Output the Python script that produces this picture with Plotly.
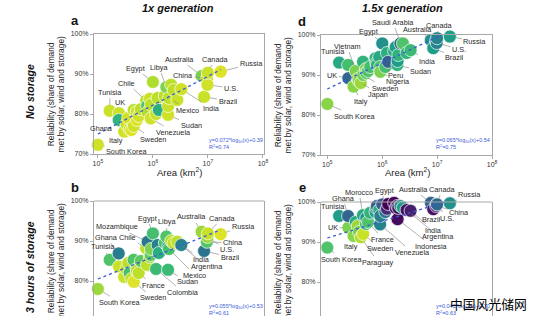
import numpy as np
import plotly.graph_objects as go

# ---------------- data ----------------
countries = ["South Korea", "Tunisia", "UK", "Ghana", "Italy", "Vietnam", "Germany", "Japan", "Paraguay", "Morocco",
             "Sweden", "Spain", "Thailand", "France", "Ukraine", "Chile", "Turkey", "Mozambique", "Pakistan", "Venezuela",
             "Nigeria", "Egypt", "Colombia", "South Africa", "Peru", "Iran", "Libya", "Sudan", "Indonesia", "Mexico",
             "Saudi Arabia", "Algeria", "Argentina", "India", "Australia", "Brazil", "China", "U.S.", "Canada", "Russia"]
area_km2 = [100e3, 164e3, 242e3, 239e3, 301e3, 331e3, 357e3, 378e3, 407e3, 447e3,
            450e3, 506e3, 513e3, 552e3, 604e3, 756e3, 784e3, 802e3, 882e3, 916e3,
            924e3, 1002e3, 1142e3, 1221e3, 1285e3, 1648e3, 1760e3, 1886e3, 1905e3, 1964e3,
            2150e3, 2382e3, 2780e3, 3287e3, 7692e3, 8516e3, 9597e3, 9834e3, 9985e3, 17098e3]

# reliability (%) and colour value (0-1 on viridis) per panel
rel_a = [72.3, 80.8, 80.2, 78.5, 75.6, 77.5, 79.0, 76.2, 76.0, 81.0,
         77.0, 80.5, 78.5, 79.5, 81.2, 83.3, 82.0, 80.5, 83.8, 78.9,
         82.3, 88.0, 80.0, 84.0, 81.0, 84.5, 86.7, 79.8, 82.0, 84.0,
         87.3, 86.0, 83.5, 86.2, 89.5, 84.3, 88.8, 87.3, 90.3, 90.6]
col_a = [0.93, 0.92, 0.92, 0.65, 0.93, 0.92, 0.93, 0.92, 0.95, 0.90,
         0.93, 0.92, 0.95, 0.93, 0.90, 0.90, 0.72, 0.88, 0.92, 0.93,
         0.90, 0.88, 0.92, 0.90, 0.62, 0.90, 0.80, 0.93, 0.92, 0.90,
         0.90, 0.90, 0.92, 0.93, 0.80, 0.92, 0.90, 0.93, 0.92, 0.95]

rel_d = [82.75, 93.1, 89.2, 92.5, 87.1, 91.0, 89.0, 88.5, 88.0, 93.3,
         90.0, 91.5, 90.5, 91.0, 92.0, 94.2, 93.0, 92.5, 94.5, 92.0,
         90.8, 97.9, 92.0, 95.5, 93.3, 96.0, 97.0, 92.5, 93.5, 95.0,
         97.9, 97.9, 95.5, 96.2, 98.7, 96.7, 98.5, 98.0, 99.2, 99.6]
col_d = [0.82, 0.60, 0.33, 0.70, 0.82, 0.80, 0.85, 0.80, 0.85, 0.65,
         0.78, 0.80, 0.75, 0.72, 0.70, 0.65, 0.70, 0.62, 0.60, 0.72,
         0.80, 0.50, 0.70, 0.62, 0.30, 0.60, 0.55, 0.65, 0.55, 0.65,
         0.33, 0.72, 0.65, 0.68, 0.50, 0.55, 0.48, 0.45, 0.45, 0.55]

rel_b = [78.0, 85.3, 83.6, 86.9, 81.0, 83.0, 84.5, 82.0, 80.5, 85.3,
         79.8, 83.0, 82.5, 82.0, 85.0, 88.2, 84.0, 89.8, 86.0, 86.5,
         88.0, 91.9, 83.0, 89.0, 87.0, 89.5, 91.1, 82.8, 88.5, 88.0,
         90.0, 89.5, 89.8, 89.0, 92.3, 87.5, 89.8, 91.0, 91.9, 91.7]
col_b = [0.85, 0.72, 0.92, 0.42, 0.92, 0.90, 0.90, 0.70, 0.90, 0.72,
         0.95, 0.90, 0.88, 0.90, 0.75, 0.90, 0.90, 0.40, 0.85, 0.75,
         0.80, 0.70, 0.68, 0.45, 0.62, 0.72, 0.72, 0.68, 0.50, 0.70,
         0.88, 0.90, 0.90, 0.45, 0.85, 0.38, 0.72, 0.85, 0.92, 0.95]

rel_e = [88.6, 96.5, 93.6, 96.5, 91.5, 95.0, 94.0, 92.5, 91.2, 96.7,
         92.0, 94.5, 96.0, 95.0, 97.3, 97.5, 98.5, 99.0, 98.0, 94.4,
         96.5, 99.4, 97.5, 98.3, 99.5, 99.8, 98.5, 99.0, 95.7, 98.5,
         99.0, 98.6, 98.0, 97.8, 99.8, 98.2, 99.0, 99.5, 99.4, 99.7]
col_e = [0.72, 0.55, 0.80, 0.33, 0.82, 0.60, 0.85, 0.78, 0.88, 0.60,
         0.92, 0.70, 0.50, 0.72, 0.65, 0.55, 0.35, 0.30, 0.62, 0.45,
         0.45, 0.30, 0.40, 0.12, 0.00, 0.02, 0.05, 0.10, 0.03, 0.04,
         0.50, 0.55, 0.05, 0.08, 0.32, 0.05, 0.10, 0.30, 0.33, 0.50]

fit_slope = [0.072, 0.065, 0.055, 0.042]
fit_icpt = [0.39, 0.54, 0.53, 0.70]
fit_r2 = [0.74, 0.75, 0.61, 0.63]

panel_letters = ["a", "d", "b", "e"]
col_titles = ["1x generation", "1.5x generation"]
row_titles = ["No storage", "3 hours of storage"]
xtick_vals = [1e5, 1e6, 1e7, 1e8]
xtick_text = ["10<sup>5</sup>", "10<sup>6</sup>", "10<sup>7</sup>", "10<sup>8</sup>"]
ytick_vals = [0.7, 0.8, 0.9, 1.0]
ytick_text = ["70%", "80%", "90%", "100%"]
ytitle = "Reliability (share of demand<br>met by solar, wind and storage)"
xtitle = "Area (km<sup>2</sup>)"
watermark = "中国风光储网"

# label positions (pixel positions of label text in the picture)
labels = [
    {"Russia": (251, 64), "Canada": (215, 59), "Australia": (180, 59), "China": (183, 75), "U.S.": (231, 88),
     "Brazil": (228, 101), "India": (211, 108), "Mexico": (188, 110), "Sudan": (191, 125), "Venezuela": (174, 132),
     "Sweden": (153, 139), "Italy": (116, 141), "South Korea": (127, 151), "Ghana": (101, 128), "UK": (120, 102),
     "Tunisia": (110, 92), "Chile": (127, 83), "Egypt": (135, 68), "Libya": (159, 67)},
    {"Russia": (475, 41), "Canada": (439, 25), "Australia": (417, 29), "Saudi Arabia": (393, 22), "Egypt": (368, 31),
     "U.S.": (459, 49), "Brazil": (455, 57), "India": (427, 61), "Sudan": (421, 71), "Peru": (395, 75),
     "Nigeria": (398, 82), "Sweden": (385, 88), "Japan": (378, 94), "Italy": (361, 101), "UK": (332, 75),
     "Tunisia": (333, 52), "Vietnam": (347, 46), "South Korea": (355, 116)},
    {"Russia": (243, 226), "Canada": (222, 218), "Australia": (192, 217), "Libya": (167, 222), "Egypt": (147, 218),
     "Mozambique": (117, 227), "Chile": (128, 237), "Ghana": (106, 237), "Tunisia": (103, 247), "China": (233, 243),
     "U.S.": (227, 250), "Brazil": (230, 257), "India": (201, 259), "Argentina": (207, 267), "Mexico": (195, 275),
     "Sudan": (187, 282), "Colombia": (183, 292), "France": (153, 285), "Sweden": (153, 298), "South Korea": (120, 302)},
    {"Russia": (470, 194), "Canada": (442, 189), "Australia": (413, 189), "Egypt": (384, 190), "Morocco": (359, 192),
     "Ghana": (343, 198), "Tunisia": (333, 206), "UK": (333, 228), "Italy": (351, 246), "South Korea": (342, 259),
     "Paraguay": (378, 262), "Sweden": (380, 248), "France": (383, 239), "Venezuela": (412, 252),
     "Indonesia": (432, 246), "Argentina": (438, 236), "India": (433, 230), "Brazil": (432, 220), "U.S.": (447, 218),
     "China": (459, 212)},
]

# ---------------- geometry ----------------
W, H = 535, 316
geom = [
    dict(xpx=(94, 264), ypx=(34, 154), xr=(4.93, 8.02), yr=(0.70, 1.00), full=True),    # a
    dict(xpx=(321, 492), ypx=(35, 155), xr=(4.885, 8.0), yr=(0.70, 1.00), full=True),   # d
    dict(xpx=(94, 264), ypx=(201, 316), xr=(4.93, 8.02), yr=(0.7125, 1.00), full=False),  # b
    dict(xpx=(321, 492), ypx=(202, 316), xr=(4.885, 8.0), yr=(0.715, 1.00), full=False),  # e
]
rels = [rel_a, rel_d, rel_b, rel_e]
cols = [col_a, col_d, col_b, col_e]

def px2paper(x, y):
    return x / W, 1 - y / H

def data2px(g, area, frac):
    lx = np.log10(area)
    x = g["xpx"][0] + (lx - g["xr"][0]) / (g["xr"][1] - g["xr"][0]) * (g["xpx"][1] - g["xpx"][0])
    y = g["ypx"][0] + (g["yr"][1] - frac) / (g["yr"][1] - g["yr"][0]) * (g["ypx"][1] - g["ypx"][0])
    return x, y

def paper_text(xp, yp, text, size, color="#222", angle=0, family=None, xanchor="center"):
    tx, ty = px2paper(xp, yp)
    return dict(x=tx, y=ty, xref="paper", yref="paper", text=text, textangle=angle, showarrow=False,
                xanchor=xanchor, yanchor="middle", font=dict(size=size, color=color, family=family or FONT))

fig = go.Figure()
FONT = "Liberation Sans, Arial, Helvetica, sans-serif"
GRAY = "#a8a8a8"
annotations = []
shapes = []
layout_axes = {}

for i, g in enumerate(geom):
    sfx = "" if i == 0 else str(i + 1)
    xa, ya = "x" + sfx, "y" + sfx
    yfrac = [r / 100 for r in rels[i]]
    fig.add_trace(go.Scatter(
        x=area_km2, y=yfrac, mode="markers", xaxis=xa, yaxis=ya, cliponaxis=False, showlegend=False,
        marker=dict(size=13, color=cols[i], colorscale="Viridis", cmin=0, cmax=1, opacity=1,
                    line=dict(color="rgba(255,255,255,0.85)", width=0.8)),
        hoverinfo="skip"))
    xmin, xmax = min(area_km2), max(area_km2)
    fx = [xmin, xmax]
    fy = [fit_slope[i] * np.log10(v) + fit_icpt[i] for v in fx]
    fig.add_trace(go.Scatter(x=fx, y=fy, mode="lines", xaxis=xa, yaxis=ya, showlegend=False, cliponaxis=False,
                             line=dict(color="#3a5bd6", width=1.3, dash="dot"), hoverinfo="skip"))

    x0, y0 = px2paper(g["xpx"][0], g["ypx"][1])
    x1, y1 = px2paper(g["xpx"][1], g["ypx"][0])
    layout_axes["xaxis" + sfx] = dict(
        type="log", domain=[x0, x1], range=list(g["xr"]), anchor=ya, automargin=False,
        showline=g["full"], mirror=True, linecolor=GRAY, linewidth=1,
        ticks="outside" if g["full"] else "", ticklen=3, tickcolor=GRAY,
        tickvals=xtick_vals, ticktext=xtick_text, showticklabels=g["full"],
        tickfont=dict(size=7, color="#333"), showgrid=False, zeroline=False, visible=g["full"])
    layout_axes["yaxis" + sfx] = dict(
        domain=[max(y0, 0), y1], range=list(g["yr"]), anchor=xa, automargin=False,
        showline=True, mirror=True, linecolor=GRAY, linewidth=1,
        ticks="outside", ticklen=3, tickcolor=GRAY,
        tickvals=ytick_vals, ticktext=ytick_text,
        tickfont=dict(size=7, color="#333"), showgrid=False, zeroline=False)
    if not g["full"]:
        shapes.append(dict(type="line", xref=xa + " domain", yref=ya + " domain", x0=0, x1=1, y0=1, y1=1,
                           line=dict(color=GRAY, width=1)))

    # country labels
    for name, (lx, ly) in labels[i].items():
        k = countries.index(name)
        bx, by = data2px(g, area_km2[k], yfrac[k])
        annotations.append(dict(
            x=np.log10(area_km2[k]), y=yfrac[k], xref=xa, yref=ya, text=name,
            showarrow=True, arrowhead=0, arrowwidth=0.6, arrowcolor="#808080", standoff=6,
            ax=lx - bx, ay=ly - by, font=dict(size=7.3, color="#2a2a2a", family=FONT)))

    # equation text
    eq_y = 143 if g["full"] else 309
    annotations.append(paper_text(
        g["xpx"][0] + 113, eq_y,
        f"y={fit_slope[i]:.3f}*log<sub>10</sub>(x)+{fit_icpt[i]:.2f}<br>R<sup>2</sup>={fit_r2[i]:.2f}",
        5.5, color="#3a5bd6", xanchor="left"))
    annotations[-1]["align"] = "left"

    # y title
    annotations.append(paper_text(g["xpx"][0] - 38.5, g["ypx"][0] + 60, ytitle, 8.4, angle=-90))
    # panel letter
    annotations.append(paper_text(g["xpx"][0] - 19, g["ypx"][0] - 14, "<b>" + panel_letters[i] + "</b>", 13,
                                  color="#111"))
    # x title
    if g["full"]:
        annotations.append(paper_text((g["xpx"][0] + g["xpx"][1]) / 2 + 0.5, 172, xtitle, 9.5))

# column titles
for j, cxp in enumerate([177.5, 402]):
    annotations.append(paper_text(cxp, 7.5, "<b><i>" + col_titles[j] + "</i></b>", 11, color="#111"))
# row titles
for j, cyp in enumerate([92, 267]):
    annotations.append(paper_text(30, cyp, "<b><i>" + row_titles[j] + "</i></b>", 10.5, color="#111", angle=-90))
# watermark
annotations.append(paper_text(488.5, 303.5, watermark, 12.8, color="#000", family="Noto Sans CJK SC"))

fig.update_layout(
    template="none",
    width=W, height=H, margin=dict(l=0, r=0, t=0, b=0, autoexpand=False),
    paper_bgcolor="white", plot_bgcolor="white",
    font=dict(family=FONT, color="#222"),
    annotations=annotations, shapes=shapes, **layout_axes)

fig.write_html("out.html")
